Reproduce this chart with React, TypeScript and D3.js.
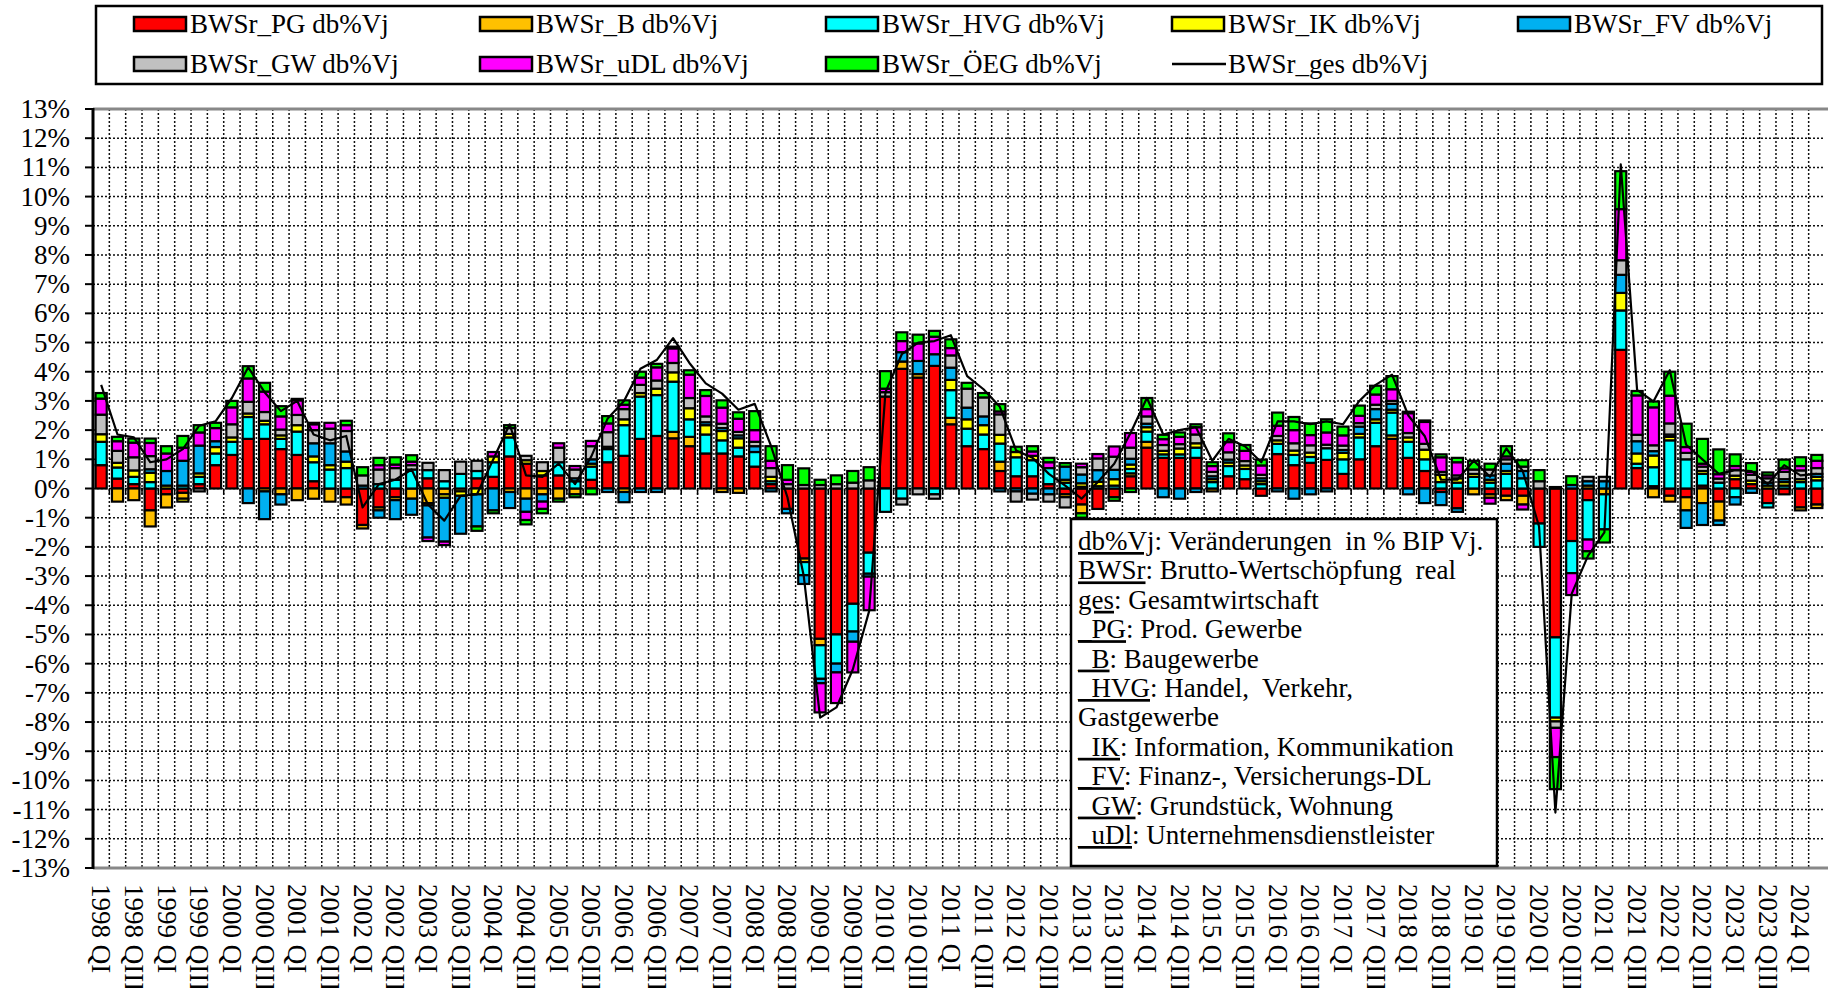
import React from "react"
import * as d3 from "d3"

// quarters 1998 QI .. 2024 QII
const romans = ["I", "II", "III", "IV"]
const categories: string[] = []
d3.range(1998, 2025).forEach(y => romans.forEach(r => categories.push(`${y} Q${r}`)))
categories.splice(106)

const yTicks = d3.range(-13, 14)

// contributions in %-points
const PG = [0.8, 0.34, 0.15, -0.75, -0.2, -0.15, 0.15, 0.8, 1.15, 1.7, 1.7, 1.35, 1.15, 0.25, 0, -0.3, -1.25, -0.65, -0.3, 0, 0.35, 0, 0, 0.35, 0.4, 1.1, 0.85, 0.45, 0.45, 0, 0.3, 0.9, 1.12, 1.7, 1.8, 1.72, 1.45, 1.2, 1.2, 1.1, 0.75, 0.15, -0.7, -2.4, -5.15, -5.0, -3.95, -2.2, 3.15, 4.1, 3.8, 4.2, 2.2, 1.45, 1.35, 0.6, 0.42, 0.42, 0.15, -0.2, -0.55, -0.7, -0.3, 0.42, 1.4, 1.05, 1.05, 1.05, 0, 0.42, 0.32, -0.25, 1.18, 0.8, 0.88, 0.98, 0.5, 1.0, 1.45, 1.7, 1.05, 0.6, -0.12, -0.68, 0, -0.2, -0.25, -0.25, -1.2, -5.1, -1.8, -0.4, 0, 4.75, 0.7, 0.08, -0.25, -0.3, 0.1, -0.45, 0.32, 0.15, -0.5, -0.2, -0.65, -0.55]
const B = [0, -0.45, -0.4, -0.55, -0.45, -0.2, 0, 0, 0, 0, -0.1, -0.2, -0.4, -0.35, -0.45, -0.25, -0.12, -0.1, -0.1, -0.35, -0.5, -0.2, -0.1, 0, 0, -0.12, -0.35, -0.2, -0.35, -0.2, 0, 0, -0.12, 0, 0, 0.22, 0.32, 0, -0.12, -0.15, 0, 0, 0, -0.12, -0.22, 0, 0, 0, 0, 0.25, 0.12, 0, 0.22, 0, 0, 0.32, 0, 0, 0, -0.1, -0.3, 0, 0, 0.1, 0.2, 0, 0, 0, -0.1, 0, 0, 0, 0, 0, 0, 0, 0, 0, 0, 0.12, 0, 0, 0, 0, -0.2, -0.12, -0.15, -0.3, 0, 0, 0, 0.1, -0.2, 0, 0, -0.3, -0.2, -0.45, -0.5, -0.65, 0, 0, 0, 0, -0.1, -0.12]
const HVG = [0.8, 0.38, 0.25, 0.22, 0, 0.1, 0.25, 0.4, 0.45, 0.75, 0.5, 0.35, 0.8, 0.65, 0.65, 0.7, 0, 0.15, 0.3, 0.65, 0.28, 0.25, 0.5, 0.25, 0.5, 0.65, 0, 0, 0.45, 0.25, 0.45, 0.45, 1.05, 1.45, 1.4, 1.72, 0.6, 0.65, 0.45, 0.3, 0.5, 0.1, 0, -0.45, -1.15, -1.0, -0.95, -0.72, -0.8, -0.35, 0, -0.2, 0.95, 0.6, 0.5, 0.62, 0.65, 0.55, 0.55, 0.2, 0.06, 0.08, 0.1, 0.15, 0.35, 0.12, 0.12, 0.35, 0.22, 0.35, 0.35, 0.15, 0.35, 0.35, 0.2, 0.4, 0.5, 0.75, 0.8, 0.78, 0.55, 0.4, 0.22, 0.2, 0.4, 0.2, 0.5, 0.35, -0.8, -2.75, -1.1, -1.35, -1.2, 1.35, 0.15, 0.65, 1.65, 1.0, 0.4, 0.2, -0.3, 0, -0.15, 0.1, 0.22, 0.28]
const IK = [0.26, 0.16, 0.22, 0.32, 0.1, -0.1, 0.12, 0.22, 0.15, 0.12, 0.12, 0.12, 0.22, 0.2, 0.15, 0.22, 0, 0, 0, 0, -0.08, -0.12, -0.15, -0.2, 0.2, 0.12, 0.12, 0.15, 0, 0, 0.1, 0.08, 0.2, 0.12, 0.22, 0.32, 0.38, 0.32, 0.32, 0.32, 0, 0.15, 0, 0, 0, 0, 0, 0, 0, 0, 0, 0, 0.35, 0.32, 0.32, 0.3, 0.18, 0.15, 0, 0.1, 0.12, 0.15, 0.22, 0.15, 0.15, 0.12, 0.2, 0.15, 0.1, 0.12, 0.12, 0.1, 0.12, 0.15, 0.15, 0, 0.22, 0.12, 0.12, 0.1, 0.15, 0.33, 0.25, 0.15, 0.1, 0.1, 0.1, 0, 0, -0.13, 0, 0, 0, 0.6, 0.35, 0.4, 0.12, 0, 0.1, 0, 0.12, 0.12, 0.1, 0.12, 0.1, 0.12]
const FV = [0, 0, 0, 0.12, 0.5, 0.85, 0.95, 0.2, 0, -0.5, -0.95, -0.35, 0, 0.45, 0.75, 0.35, 0.1, -0.25, -0.65, -0.55, -1.1, -1.5, -1.3, -1.1, -0.75, -0.55, -0.45, -0.25, 0, 0.1, 0.15, -0.12, -0.35, -0.12, -0.12, 0, 0, 0.1, 0.1, 0.1, 0.2, -0.1, -0.15, -0.3, -0.15, -0.3, -0.35, -0.1, 0, 0.32, 0.45, 0.4, 0.42, 0.4, 0.3, -0.1, -0.1, -0.18, -0.2, 0.45, 0.3, 0.4, 0.32, 0.2, 0.12, -0.3, -0.35, -0.12, 0.1, 0.1, 0, 0.1, -0.1, -0.35, -0.2, -0.1, 0.1, 0.25, 0.35, 0.2, -0.2, -0.5, -0.45, -0.12, 0, 0.15, 0.25, 0.25, 0, 0.05, 0.12, 0.15, 0.25, 0.62, 0.42, 0.15, 0.08, -0.6, -0.75, -0.15, -0.25, -0.15, 0.1, 0.1, 0, 0.1]
const GW = [0.67, 0.41, 0.45, 0.45, 0, 0, -0.1, 0, 0.45, 0.4, 0.3, 0.2, 0.35, 0.45, 0.5, 0.7, 0.35, 0.5, 0.4, 0.15, 0.25, 0.38, 0.42, 0.35, 0, 0.2, 0.15, 0.3, 0.5, 0.3, 0.45, 0.5, 0.35, 0.28, 0.28, 0.32, 0.35, 0.2, 0.15, 0.12, 0.15, 0.3, 0.15, 0.12, 0.12, 0.15, 0.2, 0.28, 0.15, -0.2, -0.2, -0.15, 0.42, 0.65, 0.65, 0.7, -0.35, -0.2, -0.25, -0.35, 0.25, 0.4, 0.45, 0.38, 0.25, 0.2, 0.15, 0.3, 0.15, 0.25, 0.15, 0.12, 0.15, 0.25, 0.25, 0.12, 0.15, 0.12, 0.15, 0.1, 0.15, 0.2, 0.1, 0.1, 0.15, 0.2, 0.15, 0.15, 0.25, -0.22, 0, 0.15, 0.15, 0.5, 0.22, 0.2, 0.38, 0.22, 0.15, 0.14, 0.2, 0.2, 0.15, 0.25, 0.3, 0.2]
const uDL = [0.55, 0.33, 0.5, 0.45, 0.6, 0.45, 0.45, 0.45, 0.58, 0.8, 0.7, 0.45, 0.5, 0.2, 0.2, 0.2, 0, 0.15, 0.12, 0.12, -0.12, -0.12, 0, 0, 0.15, 0, -0.28, -0.25, 0.15, 0.12, 0.18, 0.3, 0.15, 0.25, 0.45, 0.5, 0.8, 0.7, 0.55, 0.45, 0.4, 0.25, 0.15, 0, -1.0, -1.05, -1.05, -1.15, 0.12, 0.38, 0.6, 0.6, 0.25, 0, 0, 0.1, 0, 0.15, 0.2, 0, 0.12, 0.15, 0.35, 0.5, 0.25, 0.2, 0.25, 0.25, 0.2, 0.35, 0.35, 0.32, 0.35, 0.45, 0.35, 0.42, 0.35, 0.25, 0.35, 0.4, 0.68, 0.75, 0.5, 0.45, 0, -0.2, 0.1, -0.17, 0, -1.0, -0.75, -0.4, 0, 1.75, 1.35, 1.3, 0.95, 0.2, 0.1, 0.15, 0.13, 0.1, 0.1, 0.12, 0.15, 0.25]
const OEG = [0.19, 0.15, 0.14, 0.15, 0.25, 0.4, 0.25, 0.18, 0.22, 0.42, 0.3, 0.35, 0.05, 0.05, 0, 0.15, 0.28, 0.25, 0.25, 0.22, 0, 0, 0, -0.15, -0.1, 0.1, -0.15, -0.15, -0.1, -0.1, -0.2, 0.25, 0.15, 0.2, 0.12, 0.06, 0.15, 0.2, 0.25, 0.22, 0.65, 0.5, 0.5, 0.57, 0.18, 0.3, 0.4, 0.45, 0.6, 0.3, 0.3, 0.2, 0.3, 0.2, 0.15, 0.25, 0.18, 0.18, 0.15, 0.12, -0.15, 0, -0.12, -0.12, 0.38, 0.15, 0.15, 0.1, 0.13, 0.3, 0.2, 0.2, 0.45, 0.45, 0.4, 0.45, 0.3, 0.35, 0.3, 0.45, 0.05, 0.05, 0.1, 0.15, 0.3, 0.2, 0.35, 0.22, 0.38, -1.1, 0.3, -0.25, -0.45, 1.3, 0.15, 0.2, 0.82, 0.8, 0.85, 0.85, 0.4, 0.3, 0.1, 0.3, 0.3, 0.2]
const GES = [3.55, 1.85, 1.75, 0.9, 1.0, 1.35, 2.15, 2.3, 3.1, 4.15, 3.3, 2.65, 3.0, 1.85, 1.65, 1.8, -0.65, 0.15, 0.3, 0.65, -0.55, -1.1, -0.25, -0.2, 1.0, 2.2, 0.45, 0.4, 0.85, 0.15, 1.1, 2.4, 3.0, 4.1, 4.4, 5.15, 4.3, 3.6, 3.25, 2.7, 2.9, 1.45, -0.3, -3.0, -7.85, -7.5, -6.2, -4.2, 3.3, 4.6, 5.0, 5.05, 5.25, 3.85, 3.4, 2.8, 1.3, 1.05, 0.5, 0.1, -0.35, 0.22, 0.85, 1.9, 3.1, 1.85, 2.0, 2.1, 0.95, 1.7, 1.45, 0.9, 2.3, 2.3, 2.2, 2.3, 2.2, 3.0, 3.55, 3.9, 2.5, 1.8, 0.3, 0.3, 0.95, 0.4, 1.37, 0.6, -1.3, -11.1, -3.6, -2.3, -1.5, 11.1, 3.38, 2.98, 4.05, 1.5, 1.0, 0.5, 0.63, 0.6, 0.15, 0.8, 0.45, 0.5]

const seriesKeys = ["PG", "B", "HVG", "IK", "FV", "GW", "uDL", "OEG"]
const seriesNames = ["BWSr_PG db%Vj", "BWSr_B db%Vj", "BWSr_HVG db%Vj", "BWSr_IK db%Vj", "BWSr_FV db%Vj", "BWSr_GW db%Vj", "BWSr_uDL db%Vj", "BWSr_ÖEG db%Vj"]
const seriesColors = ["#FF0000", "#FFC000", "#00FFFF", "#FFFF00", "#00B0F0", "#C0C0C0", "#FF00FF", "#00FF00"]
const seriesValues = [PG, B, HVG, IK, FV, GW, uDL, OEG]
const totalName = "BWSr_ges db%Vj"

const noteLines: [string, string][] = [
  ["db%Vj", ": Veränderungen  in % BIP Vj."],
  ["BWSr", ": Brutto-Wertschöpfung  real"],
  ["ges", ": Gesamtwirtschaft"],
  ["_PG", ": Prod. Gewerbe"],
  ["_B", ": Baugewerbe"],
  ["_HVG", ": Handel,  Verkehr,"],
  ["", "Gastgewerbe"],
  ["_IK", ": Information, Kommunikation"],
  ["_FV", ": Finanz-, Versicherungs-DL"],
  ["_GW", ": Grundstück, Wohnung"],
  ["_uDl", ": Unternehmensdienstleister"],
]

const FONT = "'Liberation Serif', 'Times New Roman', serif"

export default function App() {
  const width = 1828
  const height = 988
  const plot = { left: 93, right: 1825, top: 109, bottom: 868 }

  const x = d3
    .scaleBand()
    .domain(categories)
    .range([plot.left, plot.right])
    .paddingInner(0.32)
    .paddingOuter(0.16)
  const step = x.step()
  const y = d3.scaleLinear().domain([-13, 13]).range([plot.bottom, plot.top])

  const rows = categories.map((c, i) => {
    const r: any = { cat: c }
    seriesKeys.forEach((k, j) => (r[k] = seriesValues[j][i]))
    return r
  })
  const stacked = d3
    .stack<any>()
    .keys(seriesKeys)
    .offset(d3.stackOffsetDiverging)(rows)

  const line = d3
    .line<number>()
    .x((d, i) => (x(categories[i]) as number) + x.bandwidth() / 2)
    .y(d => y(d))

  const boundaries = d3.range(1, categories.length).map(k => plot.left + k * step)

  return (
    <svg
      width={width}
      height={height}
      style={{ position: "absolute", left: 0, top: 0, background: "#fff" }}
      fontFamily={FONT}
    >
      <rect x={0} y={0} width={width} height={height} fill="#fff" />

      {/* grid */}
      <g stroke="#111" strokeWidth={1.5} strokeDasharray="2 2">
        {yTicks
          .filter(t => t > -13 && t < 13)
          .map(t => (
            <line key={"h" + t} x1={plot.left} x2={plot.right} y1={y(t)} y2={y(t)} />
          ))}
        {boundaries.map((bx, k) => (
          <line key={"v" + k} x1={bx} x2={bx} y1={plot.top} y2={plot.bottom} />
        ))}
      </g>
      <line x1={plot.left} x2={width} y1={plot.top} y2={plot.top} stroke="#888" strokeWidth={3} />
      <line x1={plot.left} x2={width} y1={plot.bottom} y2={plot.bottom} stroke="#888" strokeWidth={3} />

      {/* bars */}
      {stacked.map((s, j) => (
        <g key={s.key} fill={seriesColors[j]} stroke="#000" strokeWidth={2.2}>
          {s.map((d, i) => {
            const h = Math.abs(y(d[0]) - y(d[1]))
            if (h < 0.5) return null
            return (
              <rect
                key={i}
                x={x(categories[i])}
                width={x.bandwidth()}
                y={Math.min(y(d[0]), y(d[1]))}
                height={h}
              />
            )
          })}
        </g>
      ))}

      {/* x axis ticks at zero */}
      <g stroke="#000" strokeWidth={1.5}>
        {boundaries.map((bx, k) => (
          <line key={k} x1={bx} x2={bx} y1={y(0)} y2={y(0) + 6} />
        ))}
      </g>

      {/* total line */}
      <path d={line(GES) || ""} fill="none" stroke="#000" strokeWidth={2.2} strokeLinejoin="round" />

      {/* y axis */}
      <line x1={plot.left} x2={plot.left} y1={plot.top - 1} y2={plot.bottom + 1} stroke="#000" strokeWidth={3} />
      {yTicks.map(t => (
        <g key={t}>
          <line x1={85} x2={plot.left} y1={y(t)} y2={y(t)} stroke="#000" strokeWidth={2} />
          <text x={70} y={y(t)} textAnchor="end" dominantBaseline="central" fontSize={27}>
            {t + "%"}
          </text>
        </g>
      ))}

      {/* x labels */}
      {categories.map((c, i) =>
        i % 2 === 0 ? (
          <text
            key={c}
            transform={`translate(${(x(c) as number) + x.bandwidth() / 2},884) rotate(90)`}
            dominantBaseline="central"
            fontSize={27}
          >
            {c}
          </text>
        ) : null
      )}

      {/* legend */}
      <rect x={96} y={6} width={1726} height={78} fill="#fff" stroke="#000" strokeWidth={2.5} />
      {seriesNames.map((n, j) => {
        const col = j % 5
        const row = Math.floor(j / 5)
        const sx = 134 + col * 346
        const cy = row === 0 ? 24 : 64
        return (
          <g key={n}>
            <rect x={sx} y={cy - 7} width={52} height={14} fill={seriesColors[j]} stroke="#000" strokeWidth={2.5} />
            <text x={sx + 56} y={cy} dominantBaseline="central" fontSize={27}>
              {n}
            </text>
          </g>
        )
      })}
      <line x1={134 + 3 * 346} x2={134 + 3 * 346 + 54} y1={64} y2={64} stroke="#000" strokeWidth={2.5} />
      <text x={134 + 3 * 346 + 56} y={64} dominantBaseline="central" fontSize={27}>
        {totalName}
      </text>

      {/* note box */}
      <rect x={1071} y={519} width={426} height={347} fill="#fff" stroke="#000" strokeWidth={2.5} />
      {noteLines.map(([u, rest], k) => (
        <text key={k} x={1078} y={550 + k * 29.4} fontSize={27} style={{ whiteSpace: "pre" }}>
          {u ? <tspan style={{ textDecoration: "underline" }}>{u}</tspan> : null}
          <tspan>{rest}</tspan>
        </text>
      ))}
    </svg>
  )
}
